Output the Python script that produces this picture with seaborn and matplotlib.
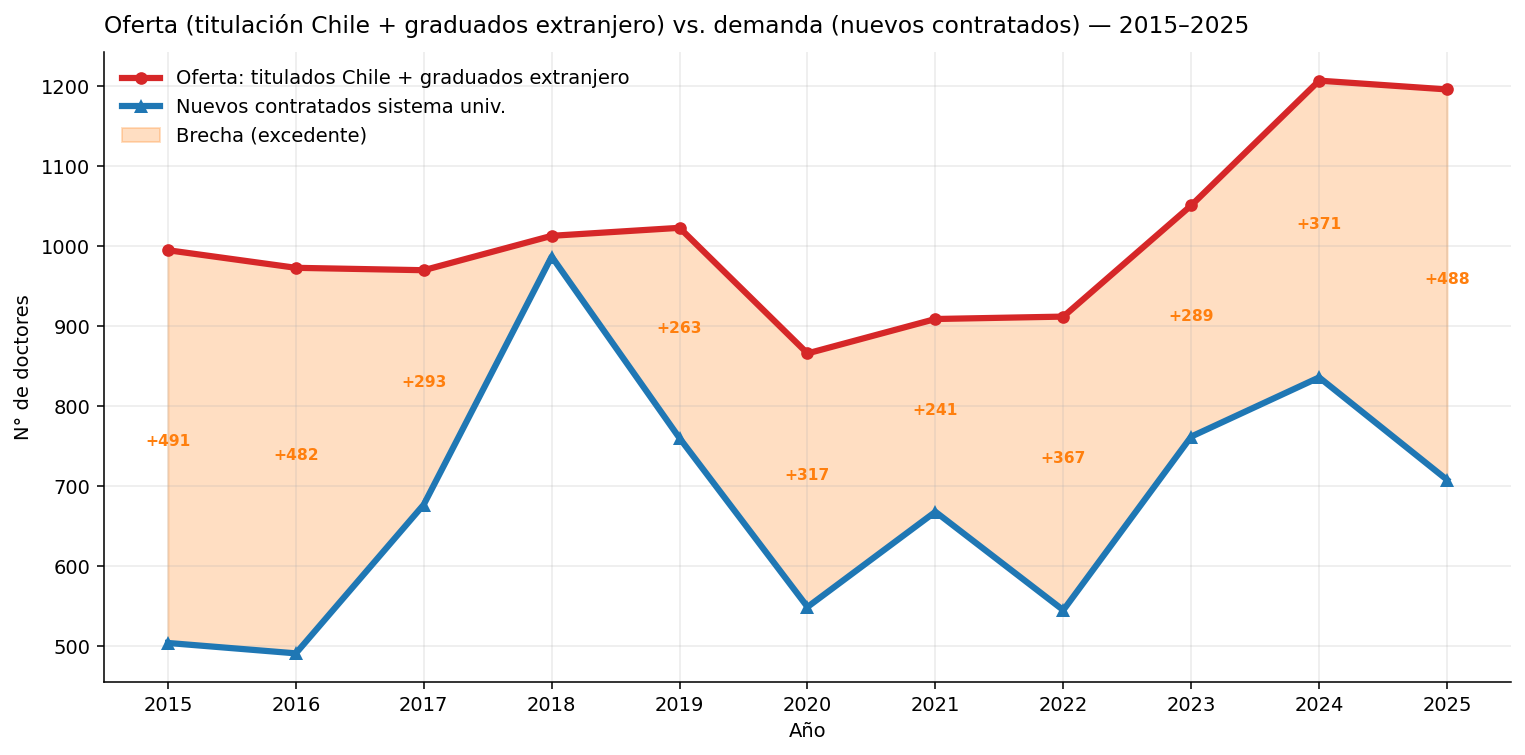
import numpy as np
import pandas as pd
import matplotlib
matplotlib.use("Agg")
import matplotlib.pyplot as plt
import seaborn as sns

years = [2015, 2016, 2017, 2018, 2019, 2020, 2021, 2022, 2023, 2024, 2025]
oferta = [995, 973, 970, 1013, 1023, 866, 909, 912, 1051, 1207, 1196]
demanda = [504, 491, 677, 987, 760, 549, 668, 545, 762, 836, 708]

lbl_oferta = "Oferta: titulados Chile + graduados extranjero"
lbl_demanda = "Nuevos contratados sistema univ."
lbl_brecha = "Brecha (excedente)"
title = "Oferta (titulación Chile + graduados extranjero) vs. demanda (nuevos contratados) — 2015–2025"

plt.rcParams['font.family'] = ['DejaVu Sans']

df = pd.DataFrame({"Año": years, "oferta": oferta, "demanda": demanda})

DPI = 140
fig, ax = plt.subplots(figsize=(1525 / DPI, 755 / DPI), dpi=DPI)

red = "#d62728"
blue = "#1f77b4"
orange = "#ff7f0e"

ax.fill_between(df["Año"], df["demanda"], df["oferta"],
                where=df["oferta"] >= df["demanda"], interpolate=True,
                color=orange, alpha=0.25, label=lbl_brecha, zorder=1)
sns.lineplot(data=df, x="Año", y="oferta", ax=ax, color=red, lw=3.2,
             marker="o", markersize=6.5, markeredgewidth=0, label=lbl_oferta, zorder=3)
sns.lineplot(data=df, x="Año", y="demanda", ax=ax, color=blue, lw=3.2,
             marker="^", markersize=7.5, markeredgewidth=0, label=lbl_demanda, zorder=3)

gap = df["oferta"] - df["demanda"]
for x, o, d, g in zip(df["Año"], df["oferta"], df["demanda"], gap):
    if g > 50:
        ax.annotate(f"+{g}", xy=(x, (o + d) / 2), xytext=(0, 2.5),
                    textcoords="offset points", ha="center", va="center",
                    color=orange, fontsize=8, fontweight="bold", zorder=4)

ax.set_xticks(years)
ax.set_xlim(2014.5, 2025.5)
ax.grid(True, alpha=0.25)
ax.set_xlabel("Año", fontsize=10)
ax.set_ylabel("N° de doctores", fontsize=10)
ax.tick_params(labelsize=10)
ax.set_title(title, loc="left", fontsize=12, pad=10)
sns.despine(ax=ax)

h, l = ax.get_legend_handles_labels()
order = [l.index(lbl_oferta), l.index(lbl_demanda), l.index(lbl_brecha)]
ax.legend([h[i] for i in order], [l[i] for i in order], loc="upper left",
          frameon=False, fontsize=10)

fig.subplots_adjust(left=104/1525, right=1511/1525, top=1-52/755, bottom=1-682/755)
fig.savefig("out.png", dpi=DPI)
